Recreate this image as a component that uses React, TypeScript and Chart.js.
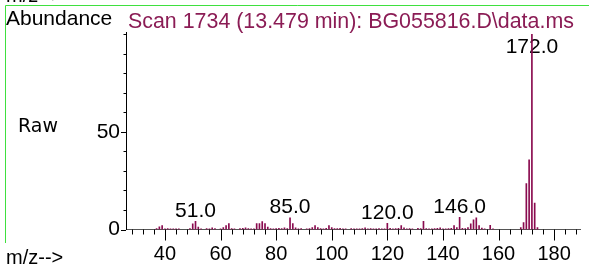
import React, { useEffect, useRef } from 'react';
import { Chart, registerables } from 'chart.js';

Chart.register(...registerables);

// m/z values and relative abundances (%)
const mzValues = [
  37, 38, 39, 40, 41, 42, 43, 44, 45, 49, 50, 51, 52, 53, 55, 56, 57, 58, 60, 61,
  62, 63, 64, 65, 67, 68, 69, 70, 71, 72, 73, 74, 75, 76, 77, 78, 79, 80, 81, 82,
  83, 84, 85, 86, 87, 88, 89, 91, 92, 93, 94, 95, 96, 97, 98, 99, 100, 101, 102, 103,
  104, 105, 107, 108, 109, 110, 111, 112, 113, 114, 115, 116, 117, 118, 119, 120, 121, 122, 123, 124,
  125, 126, 127, 128, 129, 131, 132, 133, 134, 135, 136, 137, 138, 139, 140, 141, 142, 143, 144, 145,
  146, 147, 148, 149, 150, 151, 152, 153, 154, 155, 157, 158, 168, 169, 170, 171, 172, 173, 174,
];
const abundances = [
  0.5, 1.4, 2.0, 0.3, 0.5, 0.3, 0.4, 0.3, 0.4, 0.5, 2.9, 4.2, 1.2, 0.4, 0.5, 0.4, 0.8, 0.5, 0.4, 1.0,
  2.0, 3.0, 0.5, 0.3, 0.5, 0.6, 0.8, 0.5, 0.4, 0.4, 3.0, 3.0, 4.0, 3.0, 1.2, 0.5, 0.4, 0.5, 0.6, 0.5,
  0.8, 0.5, 6.0, 3.0, 0.8, 0.4, 0.5, 0.4, 0.5, 1.0, 2.0, 1.0, 0.5, 0.4, 0.6, 2.0, 1.0, 0.5, 0.5, 0.6,
  0.4, 0.3, 0.5, 0.3, 0.4, 0.3, 0.5, 0.8, 0.4, 0.5, 0.3, 0.4, 0.5, 0.3, 0.4, 3.2, 0.6, 0.4, 0.5, 0.6,
  2.0, 0.8, 0.4, 0.5, 0.3, 0.6, 0.5, 4.2, 0.5, 0.3, 0.4, 0.5, 0.6, 0.8, 0.4, 0.3, 0.5, 0.6, 2.0, 1.0,
  6.3, 0.6, 0.5, 1.0, 2.9, 5.0, 6.0, 2.0, 0.7, 0.3, 2.2, 0.4, 1.0, 3.6, 23.6, 35.7, 100, 13.6, 1.0,
];
const peakLabels = [51, 85, 120, 146, 172];
const xTickValues = [
  28, 32, 36, 40, 44, 48, 52, 56, 60, 64, 68, 72, 76, 80, 84, 88, 92, 96, 100, 104,
  108, 112, 116, 120, 124, 128, 132, 136, 140, 144, 148, 152, 156, 160, 164, 168, 172, 176, 180, 184, 188,
];
const xLabelValues = [40, 60, 80, 100, 120, 140, 160, 180];
const yTickValues = [0, 10, 20, 30, 40, 50, 60, 70, 80, 90, 100];
const yLabelValues = [0, 50];

const titleLeft = 'Abundance';
const titleMain = 'Scan 1734 (13.479 min): BG055816.D\\data.ms';
const sideLabel = 'Raw';
const axisLabel = 'm/z-->';

const FONT = "'Liberation Sans', Arial, sans-serif";
const BAR = '#8a0b4f';
const TITLE = '#8b1c55';
const GREEN = '#3fe03f';

export default function App() {
  const ref = useRef<HTMLCanvasElement | null>(null);

  useEffect(() => {
    document.body.style.margin = '0';
    const canvas = ref.current;
    if (!canvas) return;

    const decor = {
      id: 'decor',
      beforeDraw(chart: any) {
        const ctx = chart.ctx;
        ctx.save();
        ctx.fillStyle = '#fff';
        ctx.fillRect(0, 0, chart.width, chart.height);
        ctx.strokeStyle = GREEN;
        ctx.lineWidth = 1;
        ctx.beginPath();
        ctx.moveTo(5.5, 243);
        ctx.lineTo(5.5, 5.5);
        ctx.lineTo(chart.width, 5.5);
        ctx.stroke();
        ctx.fillStyle = '#000';
        ctx.textAlign = 'left';
        ctx.textBaseline = 'alphabetic';
        ctx.font = `20px ${FONT}`;
        ctx.fillText(axisLabel, 6, 1.5);
        ctx.fillText(axisLabel, 6, 264);
        ctx.font = `21px ${FONT}`;
        ctx.fillText(titleLeft, 6, 24.5);
        ctx.font = `21.4px ${FONT}`;
        ctx.fillStyle = TITLE;
        ctx.fillText(titleMain, 128, 27.5);
        ctx.fillStyle = '#000';
        ctx.font = `19px 'DejaVu Sans', sans-serif`;
        ctx.fillText(sideLabel, 18, 132);
        ctx.restore();
      },
      beforeDatasetsDraw(chart: any) {
        const ctx = chart.ctx;
        const xs = chart.scales.x;
        const ys = chart.scales.y;
        const area = chart.chartArea;
        ctx.save();
        ctx.fillStyle = '#000';
        ctx.font = `21px ${FONT}`;
        ctx.textAlign = 'center';
        ctx.textBaseline = 'alphabetic';
        peakLabels.forEach((mz) => {
          const i = mzValues.indexOf(mz);
          const px = xs.getPixelForValue(mz);
          const py = Math.max(ys.getPixelForValue(abundances[i]) - 4.5, area.top + 20.5);
          ctx.fillText(mz.toFixed(1), px, py);
        });
        ctx.restore();
      },
      afterDraw(chart: any) {
        const ctx = chart.ctx;
        const xs = chart.scales.x;
        const ys = chart.scales.y;
        const area = chart.chartArea;
        ctx.save();
        ctx.strokeStyle = '#000';
        ctx.lineWidth = 1;
        ctx.beginPath();
        xTickValues.forEach((v) => {
          const px = Math.round(xs.getPixelForValue(v)) + 0.5;
          const len = xLabelValues.includes(v) ? 11 : 5;
          ctx.moveTo(px, area.bottom);
          ctx.lineTo(px, area.bottom + len);
        });
        yTickValues.forEach((v) => {
          const py = Math.round(ys.getPixelForValue(v)) + 0.5;
          const len = yLabelValues.includes(v) ? 5 : 2.5;
          ctx.moveTo(area.left - len, py);
          ctx.lineTo(area.left, py);
        });
        ctx.stroke();
        ctx.restore();
      },
    };

    const chart = new Chart(canvas, {
      type: 'bar',
      data: {
        datasets: [
          {
            data: mzValues.map((x, i) => ({ x, y: abundances[i] })),
            backgroundColor: BAR,
            borderWidth: 0,
            barThickness: 1,
          } as any,
        ],
      },
      options: {
        responsive: false,
        animation: false,
        events: [],
        layout: { padding: { top: 32.5, right: 9, left: 0, bottom: 0 } },
        plugins: { legend: { display: false }, tooltip: { enabled: false } },
        scales: {
          x: {
            type: 'linear',
            min: 26,
            max: 189.3,
            offset: false,
            position: 'bottom',
            grid: { display: false },
            border: { display: true, color: '#555', width: 1 },
            afterBuildTicks: (s: any) => {
              s.ticks = xTickValues.map((v) => ({ value: v }));
            },
            afterFit: (s: any) => {
              s.height = 35.5;
            },
            ticks: {
              autoSkip: false,
              maxRotation: 0,
              minRotation: 0,
              padding: 5,
              color: '#000',
              font: { size: 20, family: FONT },
              callback: (v: any) => (xLabelValues.includes(Number(v)) ? String(v) : ''),
            },
          },
          y: {
            type: 'linear',
            min: 0,
            max: 101,
            grid: { display: false },
            border: { display: true, color: '#000', width: 1 },
            afterBuildTicks: (s: any) => {
              s.ticks = yTickValues.map((v) => ({ value: v }));
            },
            afterFit: (s: any) => {
              s.width = 126;
            },
            ticks: {
              autoSkip: false,
              padding: -2,
              color: '#000',
              font: { size: 21, family: FONT },
              callback: (v: any) => (yLabelValues.includes(Number(v)) ? String(v) : ''),
            },
          },
        },
      } as any,
      plugins: [decor],
    });

    return () => chart.destroy();
  }, []);

  return (
    <canvas
      ref={ref}
      width={589}
      height={265}
      style={{ display: 'block', width: 589, height: 265 }}
    />
  );
}
